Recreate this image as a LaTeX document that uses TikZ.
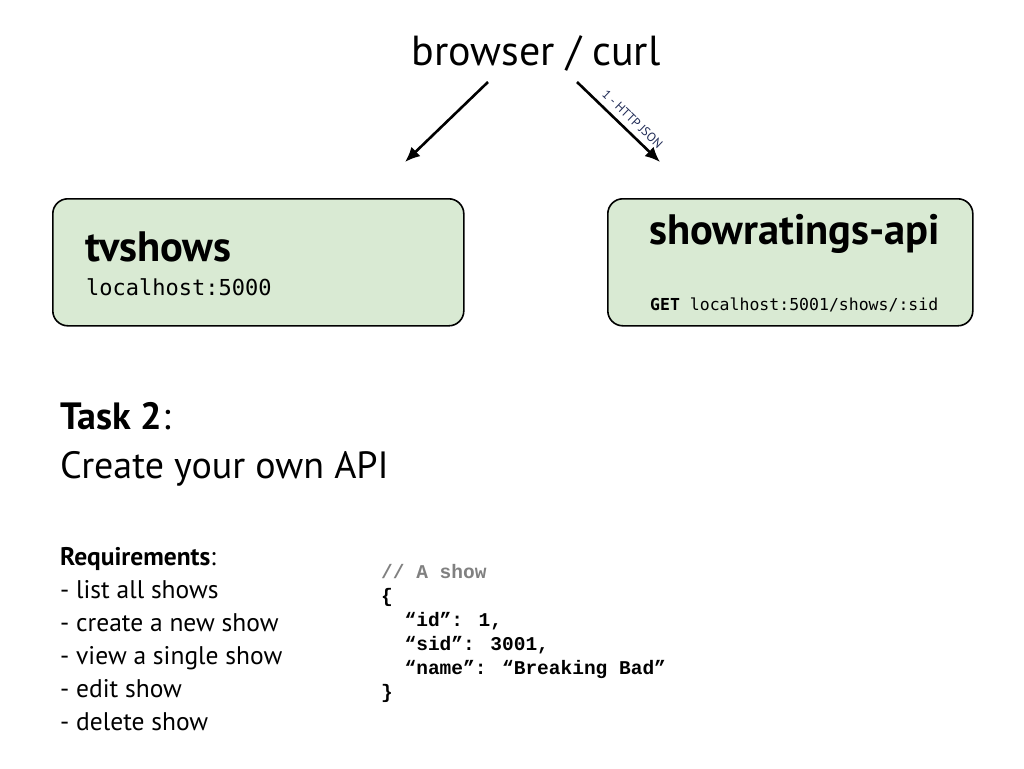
\documentclass[tikz,border=0pt]{standalone}
\usepackage{fontspec}
\setmainfont{PT Sans}
\newfontfamily\codefont{DejaVu Sans Mono}
\newfontfamily\jsonfont{Liberation Mono}
\usetikzlibrary{arrows.meta}
\definecolor{boxgreen}{HTML}{D9EAD3}
\definecolor{labelblue}{HTML}{1F2A55}

\begin{document}
\begin{tikzpicture}[x=1pt, y=-1pt]
% Define the node styles
\tikzstyle{service} = [draw, rounded corners=15pt, line width=1.6pt, fill=boxgreen, anchor=north west, inner sep=0pt]
\tikzstyle{txt} = [anchor=base west, inner sep=0pt]
\tikzstyle{flow} = [line width=2.6pt, -{Latex[length=15pt, width=13pt]}]

\useasboundingbox (0,0) rectangle (1024,768);

% Define the nodes
\node[anchor=base, inner sep=0pt, font=\fontsize{42}{50}\selectfont] (B) at (536,66) {browser / curl};
\node[service, minimum width=411pt, minimum height=127pt] (T) at (52,198) {};
\node[service, minimum width=365pt, minimum height=127pt] (S) at (607,198) {};

\node[txt, font=\fontsize{42.5}{50}\selectfont\bfseries] (Tname) at (85,261) {tvshows};
\node[txt, font=\fontsize{22}{26}\selectfont\codefont] (Thost) at (86,295) {localhost:5000};
\node[txt, font=\fontsize{42.5}{50}\selectfont\bfseries] (Sname) at (649,244) {showratings-api};
\node[txt, font=\fontsize{16.5}{20}\selectfont\codefont] (Sget) at (650,310) {\textbf{GET} localhost:5001/shows/:sid};

\coordinate (B1) at (488,82);
\coordinate (B2) at (577,82);
\coordinate (L) at (405,162);
\coordinate (R) at (660,162);

% Define the transitions
\draw[flow] (B1) -- (L);
\draw[flow] (B2) -- (R)
  node[pos=0.57, sloped, above, inner sep=6pt, text=labelblue, font=\fontsize{12.5}{14}\selectfont] (H) {1 - HTTP JSON};

% Task text
\node[txt, font=\fontsize{38}{44}\selectfont] (Task) at (60,429) {\textbf{Task 2}:};
\node[txt, font=\fontsize{38}{44}\selectfont] (Api) at (60,478) {Create your own API};

\node[txt, font=\fontsize{25.5}{30}\selectfont] (Req) at (60,565) {\textbf{Requirements}:};
\foreach \item [count=\i] in {list all shows, create a new show, view a single show, edit show, delete show}
  \node[txt, font=\fontsize{25.5}{30}\selectfont] (R\i) at (60,565+33*\i) {- \item};

% JSON example
\node[txt, text=gray, font=\fontsize{19.5}{24}\selectfont\jsonfont\bfseries] (C0) at (381,578) {// A show};
\foreach \line [count=\i] in {\{, \ \ “id”: 1{,}, \ \ “sid”: 3001{,}, \ \ “name”: “Breaking Bad”, \}}
  \node[txt, font=\fontsize{19.5}{24}\selectfont\jsonfont\bfseries] (C\i) at (381,578+24*\i) {\line};

\end{tikzpicture}
\end{document}
